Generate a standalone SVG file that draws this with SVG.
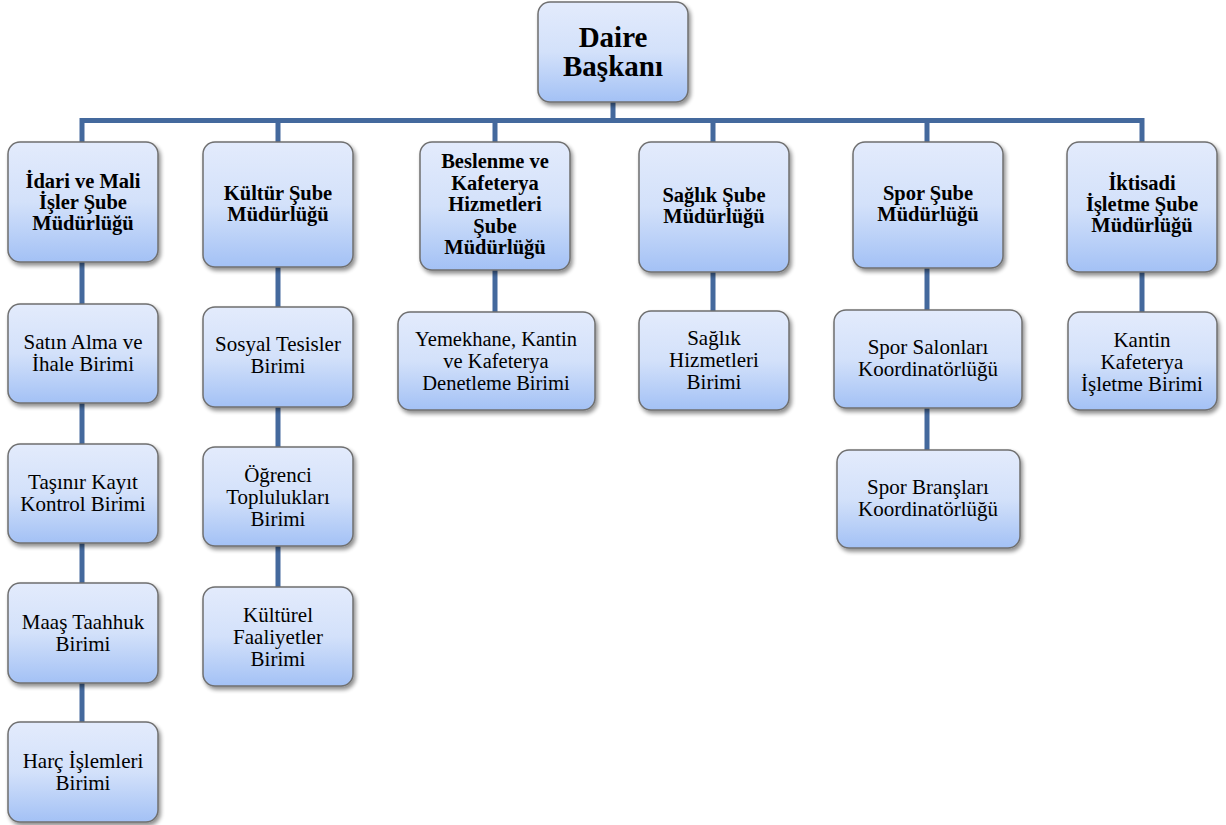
<svg xmlns="http://www.w3.org/2000/svg" width="1226" height="825" viewBox="0 0 1226 825">
<defs>
<linearGradient id="g" x1="0" y1="0" x2="0" y2="1">
<stop offset="0" stop-color="#e3ebfc"/>
<stop offset="0.5" stop-color="#d3e1fa"/>
<stop offset="1" stop-color="#a3c1f5"/>
</linearGradient>
<filter id="sh" x="-10%" y="-10%" width="125%" height="125%">
<feGaussianBlur in="SourceAlpha" stdDeviation="2"/>
<feOffset dx="2" dy="3" result="b"/>
<feComponentTransfer><feFuncA type="linear" slope="0.45"/></feComponentTransfer>
<feMerge><feMergeNode/><feMergeNode in="SourceGraphic"/></feMerge>
</filter>
</defs>
<style>
.box{fill:url(#g);stroke:#6f6f6f;stroke-width:1.5;filter:url(#sh)}
.ln{stroke:#44699d;stroke-width:5;fill:none}
text{font-family:'Liberation Serif','Times New Roman',serif;text-anchor:middle;fill:#000}
.b{font-weight:bold;font-size:20.5px}
.r{font-size:21px}
.s{font-size:20.5px}
.t{font-weight:bold;font-size:29px}
</style>
<rect width="1226" height="825" fill="#fff"/>
<g id="connectors">
<path class="ln" d="M613 102V120.5M79.5 120.5H1144.5M82 120.5V142M278 120.5V142M495 120.5V142M713 120.5V142M927 120.5V142M1142 120.5V142"/>
<path class="ln" d="M82 262V304M82 403V445M82 543V583M82 683V722"/>
<path class="ln" d="M278 267V307M278 407V447M278 546V587"/>
<path class="ln" d="M495 270V312M713 272V311M927 268V310M927 408V450M1142 272V312"/>
</g>
<g id="n-daire"><rect class="box" x="538" y="2" width="150" height="100" rx="12"/><text class="t" x="613" y="47">Daire</text><text class="t" x="613" y="76">Başkanı</text></g>
<g id="n-idari"><rect class="box" x="8" y="142" width="150" height="120" rx="12"/><text class="b" x="83" y="188">İdari ve Mali</text><text class="b" x="83" y="209">İşler Şube</text><text class="b" x="83" y="230">Müdürlüğü</text></g>
<g id="n-kultur"><rect class="box" x="203" y="142" width="150" height="125" rx="12"/><text class="b" x="278" y="200">Kültür Şube</text><text class="b" x="278" y="221">Müdürlüğü</text></g>
<g id="n-beslenme"><rect class="box" x="420" y="142" width="150" height="128" rx="12"/><text class="b" x="495" y="168">Beslenme ve</text><text class="b" x="495" y="189.5">Kafeterya</text><text class="b" x="495" y="211">Hizmetleri</text><text class="b" x="495" y="232.5">Şube</text><text class="b" x="495" y="254">Müdürlüğü</text></g>
<g id="n-saglik"><rect class="box" x="639" y="142" width="150" height="130" rx="12"/><text class="b" x="714" y="202">Sağlık Şube</text><text class="b" x="714" y="223">Müdürlüğü</text></g>
<g id="n-spor"><rect class="box" x="853" y="142" width="150" height="126" rx="12"/><text class="b" x="928" y="200">Spor Şube</text><text class="b" x="928" y="221">Müdürlüğü</text></g>
<g id="n-iktisadi"><rect class="box" x="1067" y="142" width="150" height="130" rx="12"/><text class="b" x="1142" y="190">İktisadi</text><text class="b" x="1142" y="211">İşletme Şube</text><text class="b" x="1142" y="232">Müdürlüğü</text></g>
<g id="n-satin"><rect class="box" x="8" y="304" width="150" height="99" rx="12"/><text class="r" x="83" y="349">Satın Alma ve</text><text class="r" x="83" y="371">İhale Birimi</text></g>
<g id="n-tasinir"><rect class="box" x="8" y="444" width="150" height="99" rx="12"/><text class="r" x="83" y="489">Taşınır Kayıt</text><text class="r" x="83" y="511">Kontrol Birimi</text></g>
<g id="n-maas"><rect class="box" x="8" y="583" width="150" height="100" rx="12"/><text class="r" x="83" y="629">Maaş Taahhuk</text><text class="r" x="83" y="651">Birimi</text></g>
<g id="n-harc"><rect class="box" x="8" y="722" width="150" height="100" rx="12"/><text class="r" x="83" y="768">Harç İşlemleri</text><text class="r" x="83" y="790">Birimi</text></g>
<g id="n-sosyal"><rect class="box" x="203" y="307" width="150" height="100" rx="12"/><text class="r" x="278" y="351">Sosyal Tesisler</text><text class="r" x="278" y="373">Birimi</text></g>
<g id="n-ogrenci"><rect class="box" x="203" y="447" width="150" height="99" rx="12"/><text class="r" x="278" y="482">Öğrenci</text><text class="r" x="278" y="504">Toplulukları</text><text class="r" x="278" y="526">Birimi</text></g>
<g id="n-kulturel"><rect class="box" x="203" y="587" width="150" height="99" rx="12"/><text class="r" x="278" y="622">Kültürel</text><text class="r" x="278" y="644">Faaliyetler</text><text class="r" x="278" y="666">Birimi</text></g>
<g id="n-yemekhane"><rect class="box" x="398" y="312" width="197" height="98" rx="12"/><text class="s" x="496" y="346">Yemekhane, Kantin</text><text class="s" x="496" y="368">ve Kafeterya</text><text class="s" x="496" y="390">Denetleme Birimi</text></g>
<g id="n-saglikhiz"><rect class="box" x="639" y="311" width="150" height="99" rx="12"/><text class="r" x="714" y="345">Sağlık</text><text class="r" x="714" y="367">Hizmetleri</text><text class="r" x="714" y="389">Birimi</text></g>
<g id="n-salon"><rect class="box" x="834" y="310" width="188" height="98" rx="12"/><text class="r" x="928" y="354">Spor Salonları</text><text class="r" x="928" y="376">Koordinatörlüğü</text></g>
<g id="n-brans"><rect class="box" x="837" y="450" width="183" height="98" rx="12"/><text class="r" x="928" y="494">Spor Branşları</text><text class="r" x="928" y="516">Koordinatörlüğü</text></g>
<g id="n-kantin"><rect class="box" x="1068" y="312" width="149" height="98" rx="12"/><text class="r" x="1142" y="347">Kantin</text><text class="r" x="1142" y="369">Kafeterya</text><text class="r" x="1142" y="391">İşletme Birimi</text></g>
</svg>
